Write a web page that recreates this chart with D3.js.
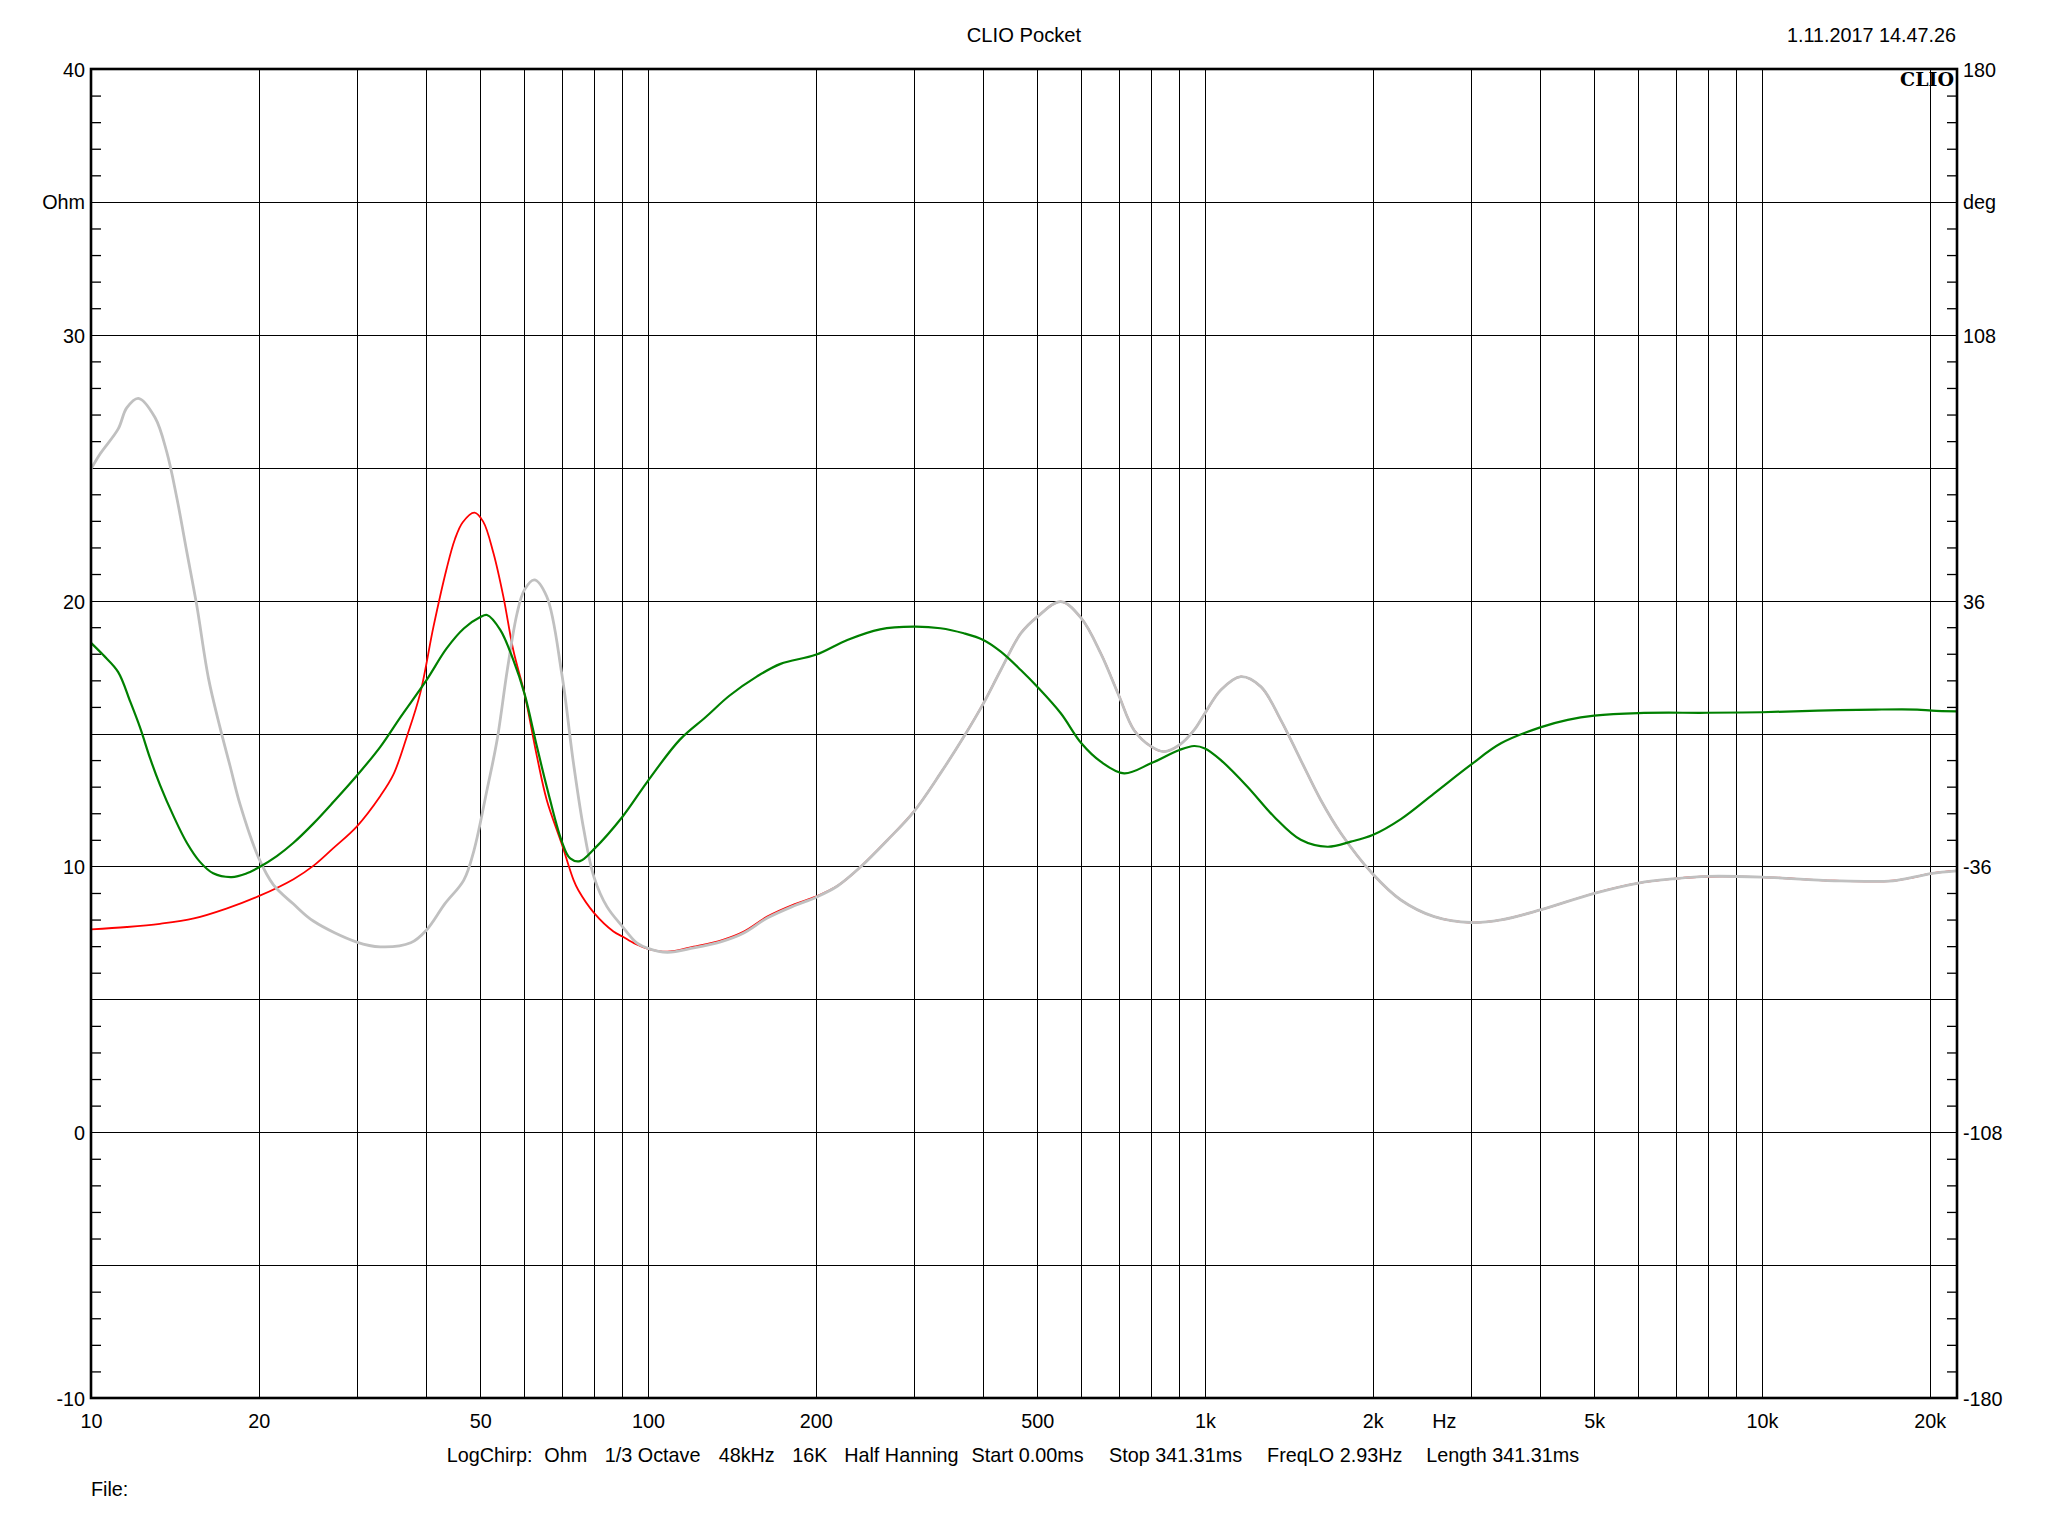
<!DOCTYPE html>
<html>
<head>
<meta charset="utf-8">
<script src="https://cdn.jsdelivr.net/npm/d3@7"></script>
<style>
  html, body { margin: 0; padding: 0; background: #ffffff; }
  svg { display: block; }
  text { font-family: "Liberation Sans", Arial, sans-serif; fill: #000; }
</style>
</head>
<body>
<script>
// ---------------- DATA ----------------
const titleText = "CLIO Pocket";
const dateText = "1.11.2017 14.47.26";
const infoItems = ["LogChirp:", "Ohm", "1/3 Octave", "48kHz", "16K", "Half Hanning",
                   "Start 0.00ms", "Stop 341.31ms", "FreqLO 2.93Hz", "Length 341.31ms"];
const infoItemPos = [446.7, 544.3, 604.8, 718.7, 792.3, 844.2, 971.6, 1109.1, 1267.1, 1426.2]; // x positions (px)

const freqTickValues = [10, 20, 50, 100, 200, 500, 1000, 2000, 5000, 10000, 20000];
const freqTickLabels = ["10", "20", "50", "100", "200", "500", "1k", "2k", "5k", "10k", "20k"];
const ohmTickValues = [40, 30, 20, 10, 0, -10];
const degTickValues = [180, 108, 36, -36, -108, -180];

// Red: impedance magnitude (Ohm)
const redFreq = [10, 11.6, 13.3, 15.3, 17.5, 20, 23.1, 25.1, 27.2, 30, 33.1, 34.9, 36.9, 39, 41.2, 43.5, 45.0, 46.5, 48.8,
  50.6, 52.8, 55, 57.3, 60, 63.2, 65.8, 70, 73.5, 75, 80, 86.7, 90, 95, 100, 108.3, 120.8, 135.9, 148.3, 163.7, 183.5,
  200, 219, 241, 269, 300, 335, 369, 400, 430, 467, 500, 551, 600, 650, 700, 746, 800, 844, 900, 956, 1000, 1068, 1160,
  1260, 1368, 1486, 1614, 1754, 2000, 2248, 2580, 3000, 3400, 4000, 5000, 6000, 7000, 8000, 10000, 13500, 17200, 18900,
  20200, 22400];
const redOhm = [7.63, 7.72, 7.84, 8.04, 8.41, 8.88, 9.52, 10.03, 10.68, 11.5, 12.66, 13.45, 14.88, 16.51, 19.02, 21.2, 22.3, 22.95, 23.31,
  22.97, 21.78, 20.15, 18.14, 16.51, 14.13, 12.5, 10.85, 9.49, 9.1, 8.25, 7.55, 7.36, 7.08, 6.9, 6.79, 6.98, 7.23, 7.54, 8.11, 8.58,
  8.86, 9.27, 9.99, 10.99, 12.06, 13.5, 14.88, 16.13, 17.39, 18.77, 19.39, 19.96, 19.33, 18.02, 16.45, 15.13, 14.51, 14.32, 14.57, 15.13, 15.76, 16.64, 17.14,
  16.76, 15.51, 14.0, 12.5, 11.25, 9.72, 8.74, 8.11, 7.89, 7.99, 8.36, 8.99, 9.37, 9.54, 9.62, 9.6, 9.46, 9.46, 9.61,
  9.74, 9.84];

// Green: second impedance curve (Ohm)
const greenFreq = [10, 10.52, 11.19, 11.75, 12.25, 12.77, 13.31, 14.06, 14.86, 15.69, 16.57, 17.89, 19.04, 20, 21.56, 23.1, 25.07,
  27.23, 30, 33.07, 35.9, 40, 43.5, 46.7, 50, 51.4, 54.3, 57.3, 60, 63.2, 65.8, 70, 72.5, 75.5, 80, 90, 100, 114, 127, 140,
  157, 173, 200, 228, 261, 300, 335, 369, 400, 430, 467, 500, 551, 600, 650, 716, 800, 900, 956, 1000, 1068, 1192, 1331, 1486,
  1660, 1828, 2000, 2248, 2580, 3000, 3400, 4000, 4481, 5000, 6000, 8000, 10000, 12600, 16000, 19000, 20200, 22400];
const greenOhm = [18.41, 17.95, 17.31, 16.22, 15.22, 14.06, 13.05, 11.9, 10.89, 10.17, 9.74, 9.6, 9.74, 9.96, 10.39, 10.89, 11.61,
  12.42, 13.41, 14.5, 15.6, 17.0, 18.2, 18.95, 19.38, 19.46, 18.9, 17.77, 16.51, 14.5, 13.0, 10.95, 10.3, 10.2, 10.65, 11.87, 13.22, 14.76, 15.62, 16.42,
  17.15, 17.62, 17.96, 18.52, 18.92, 19.02, 18.96, 18.77, 18.52, 18.08, 17.39, 16.76, 15.76, 14.63, 13.94, 13.5, 13.88, 14.38, 14.53, 14.44, 14.0, 13.0, 11.87, 11.0,
  10.74, 10.93, 11.18, 11.78, 12.75, 13.82, 14.63, 15.23, 15.51, 15.67, 15.77, 15.78, 15.8, 15.86, 15.9, 15.9, 15.86, 15.83];

// Grey: phase (degrees, right axis)
const grayFreq = [10, 10.38, 11.19, 11.59, 12.16, 13.03, 13.68, 14.26, 14.86, 15.48, 16.25, 17.05, 17.77, 18.52, 20, 21.26, 23.1,
  25.07, 30, 33.07, 37.5, 40, 43.2, 46.7, 48.7, 51.4, 53.6, 55.9, 58.2, 60, 62.5, 65.8, 70, 73.5, 76.7, 80, 84.4, 90, 95.6, 100,
  108.3, 120.8, 135.9, 148.3, 163.7, 183.5, 200, 219, 241, 269, 300, 335, 369, 400, 430, 467, 500, 551, 600, 650, 700, 746,
  800, 844, 900, 956, 1000, 1068, 1160, 1260, 1368, 1486, 1614, 1754, 2000, 2248, 2580, 3000, 3400, 4000, 5000, 6000, 7000,
  8000, 10000, 13500, 17200, 18900, 20200, 22400];
const grayDeg = [71.6, 75.7, 82.5, 88.2, 90.8, 85.6, 76.2, 63.8, 49.2, 34.8, 15.0, 1.6, -8.8, -19.2, -33.7, -41.0, -46.2,
  -50.8, -56.5, -57.8, -56.7, -53.3, -46.1, -39.7, -31.7, -15.3, -1.7, 17.2, 32.5, 38.9, 41.6, 37.1, 16.3, -8.1, -26.1, -38.9, -46.9, -52.3, -56.8, -58.2,
  -59.3, -58.1, -56.3, -54.1, -50.0, -46.6, -44.4, -41.3, -36.1, -28.9, -21.2, -10.8, -0.9, 8.1, 17.2, 27.1, 31.6, 35.7, 31.2, 21.7, 10.4, 0.9,
  -3.5, -4.9, -3.1, 0.9, 5.5, 11.8, 15.4, 12.7, 3.7, -7.2, -18.0, -27.0, -38.0, -45.1, -49.6, -51.2, -50.5, -47.8, -43.3, -40.5, -39.3,
  -38.7, -38.9, -39.9, -39.9, -38.8, -37.9, -37.2];

// ---------------- LAYOUT ----------------
const W = 2048, H = 1536;
const L = 91, R = 1957, T = 69, B = 1398;
const FONT = 19.8;

const svg = d3.select("body").append("svg").attr("width", W).attr("height", H)
  .style("background", "#fff");

const x = d3.scaleLog().domain([10, 22400]).range([L, R]);
const yOhm = d3.scaleLinear().domain([-10, 40]).range([B, T]);
const yDeg = d3.scaleLinear().domain([-180, 180]).range([B, T]);

// Grid
const vGrid = [];
[10, 100, 1000, 10000].forEach(d => { for (let m = 1; m <= 9; m++) { const f = d * m; if (f > 10 && f <= 20000) vGrid.push(f); } });
const hGrid = d3.range(-5, 40, 5);
const grid = svg.append("g").attr("shape-rendering", "crispEdges");
grid.selectAll("line.v").data(vGrid).join("line")
  .attr("x1", d => Math.round(x(d)) + 0.5).attr("x2", d => Math.round(x(d)) + 0.5)
  .attr("y1", T).attr("y2", B).attr("stroke", "#000").attr("stroke-width", 1);
grid.selectAll("line.h").data(hGrid).join("line")
  .attr("y1", d => Math.round(yOhm(d)) + 0.5).attr("y2", d => Math.round(yOhm(d)) + 0.5)
  .attr("x1", L).attr("x2", R).attr("stroke", "#000").attr("stroke-width", 1);

// Minor ticks (left & right, pointing inward)
const minors = d3.range(-9, 40).filter(v => v % 5 !== 0);
svg.append("g").attr("transform", `translate(${L},0)`)
  .call(d3.axisLeft(yOhm).tickValues(minors).tickSize(-10).tickFormat(""))
  .call(g => g.select(".domain").remove())
  .call(g => g.selectAll("line").attr("stroke", "#000").attr("stroke-width", 1.3));
svg.append("g").attr("transform", `translate(${R},0)`)
  .call(d3.axisRight(yOhm).tickValues(minors).tickSize(-10).tickFormat(""))
  .call(g => g.select(".domain").remove())
  .call(g => g.selectAll("line").attr("stroke", "#000").attr("stroke-width", 1.3));

// Curves
const plot = svg.append("g");
const crv = d3.curveCatmullRom.alpha(0.5);
const lineOhm = d3.line().x(d => x(d[0])).y(d => yOhm(d[1])).curve(crv);
const lineDeg = d3.line().x(d => x(d[0])).y(d => yDeg(d[1])).curve(crv);
plot.append("path").datum(d3.zip(redFreq, redOhm)).attr("d", lineOhm)
  .attr("fill", "none").attr("stroke", "#ff0000").attr("stroke-width", 1.8);
plot.append("path").datum(d3.zip(grayFreq, grayDeg)).attr("d", lineDeg)
  .attr("fill", "none").attr("stroke", "#c0c0c0").attr("stroke-width", 2.8);
plot.append("path").datum(d3.zip(greenFreq, greenOhm)).attr("d", lineOhm)
  .attr("fill", "none").attr("stroke", "#008000").attr("stroke-width", 2.2);

// Frame
svg.append("rect").attr("x", L).attr("y", T).attr("width", R - L).attr("height", B - T)
  .attr("fill", "none").attr("stroke", "#000").attr("stroke-width", 2.6);

// Left axis labels
const leftAx = svg.append("g").attr("transform", `translate(${L},0)`)
  .call(d3.axisLeft(yOhm).tickValues(ohmTickValues).tickSize(0).tickPadding(6).tickFormat(d => String(d)));
leftAx.select(".domain").remove();
leftAx.selectAll("text").attr("font-size", FONT).attr("font-family", "Liberation Sans, Arial, sans-serif")
  .attr("dy", "0.38em").attr("fill", "#000");
svg.append("text").attr("x", L - 6).attr("y", yOhm(35)).attr("dy", "0.38em")
  .attr("text-anchor", "end").attr("font-size", FONT).text("Ohm");

// Right axis labels
const rightAx = svg.append("g").attr("transform", `translate(${R},0)`)
  .call(d3.axisRight(yDeg).tickValues(degTickValues).tickSize(0).tickPadding(6).tickFormat(d => String(d)));
rightAx.select(".domain").remove();
rightAx.selectAll("text").attr("font-size", FONT).attr("font-family", "Liberation Sans, Arial, sans-serif")
  .attr("dy", "0.38em").attr("fill", "#000");
svg.append("text").attr("x", R + 6).attr("y", yDeg(144)).attr("dy", "0.38em")
  .attr("text-anchor", "start").attr("font-size", FONT).text("deg");

// Bottom axis labels
const botAx = svg.append("g").attr("transform", `translate(0,${B})`)
  .call(d3.axisBottom(x).tickValues(freqTickValues).tickSize(0).tickFormat((d, i) => freqTickLabels[i]));
botAx.select(".domain").remove();
botAx.selectAll("text").attr("font-size", FONT).attr("font-family", "Liberation Sans, Arial, sans-serif")
  .attr("y", 30).attr("dy", 0).attr("fill", "#000");
svg.append("text").attr("x", x(2690)).attr("y", B + 30).attr("text-anchor", "middle")
  .attr("font-size", FONT).text("Hz");

// Title, date
svg.append("text").attr("x", 1024).attr("y", 41.5).attr("text-anchor", "middle")
  .attr("font-size", FONT + 0.4).text(titleText);
svg.append("text").attr("x", 1956).attr("y", 41.5).attr("text-anchor", "end")
  .attr("font-size", FONT).text(dateText);

// CLIO logo
svg.append("text").attr("x", 1954).attr("y", 86).attr("text-anchor", "end")
  .style("font-family", "'DejaVu Serif', 'Liberation Serif', serif").style("font-weight", "bold")
  .attr("font-size", 19).text("CLIO");

// Info line
svg.append("g").selectAll("text").data(infoItems).join("text")
  .attr("x", (d, i) => infoItemPos[i]).attr("y", 1462)
  .attr("font-size", FONT).text(d => d);

svg.append("text").attr("x", 91).attr("y", 1496).attr("font-size", FONT).text("File:");
</script>
</body>
</html>
